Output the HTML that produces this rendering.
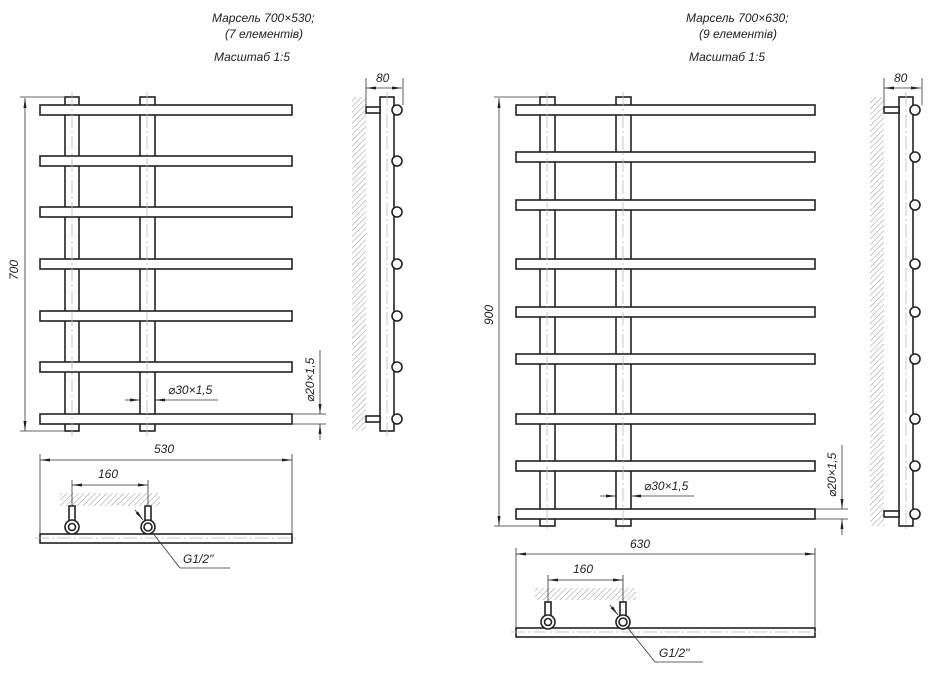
<!DOCTYPE html>
<html><head><meta charset="utf-8"><style>
html,body{margin:0;padding:0;background:#fff;}
svg{display:block;}
text{font-family:"Liberation Sans","DejaVu Sans",sans-serif;font-style:italic;fill:#222;}
</style></head><body>
<svg width="933" height="675" viewBox="0 0 933 675" xmlns="http://www.w3.org/2000/svg">
<defs>
<pattern id="h" width="4" height="4" patternUnits="userSpaceOnUse" patternTransform="rotate(45)">
<line x1="0" y1="0" x2="0" y2="4" stroke="#999" stroke-width="1"/>
</pattern>
<marker id="a" markerWidth="10" markerHeight="6" refX="10" refY="3" orient="auto-start-reverse" markerUnits="userSpaceOnUse"><path d="M0,1.5 L10,3 L0,4.5z" fill="#222"/></marker>
</defs>
<g stroke="#222" stroke-width="1.6" fill="#fff">
<!-- LEFT front -->
<rect x="65" y="97" width="14" height="334"/>
<rect x="140" y="97" width="15" height="334"/>
<rect x="40" y="105" width="252" height="10"/>
<rect x="40" y="156" width="252" height="10"/>
<rect x="40" y="207" width="252" height="10"/>
<rect x="40" y="259" width="252" height="10"/>
<rect x="40" y="311" width="252" height="10"/>
<rect x="40" y="362" width="252" height="10"/>
<rect x="40" y="414" width="252" height="10"/>
<!-- LEFT side -->
<rect x="380" y="97" width="14" height="334"/>
<rect x="366" y="107" width="14" height="6"/>
<rect x="366" y="416" width="14" height="6"/>
<circle cx="397" cy="110" r="5"/><circle cx="397" cy="161" r="5"/><circle cx="397" cy="212" r="5"/><circle cx="397" cy="264" r="5"/><circle cx="397" cy="316" r="5"/><circle cx="397" cy="367" r="5"/><circle cx="397" cy="419" r="5"/>
<!-- LEFT bottom -->
<rect x="40" y="534" width="252" height="9"/>
<rect x="69" y="506" width="6" height="16"/>
<rect x="145" y="506" width="6" height="16"/>
<circle cx="72" cy="527" r="7"/><circle cx="72" cy="527" r="3.5"/>
<circle cx="148" cy="527" r="7"/><circle cx="148" cy="527" r="4"/>

<!-- RIGHT front -->
<rect x="540" y="97" width="15" height="429"/>
<rect x="616" y="97" width="15" height="429"/>
<rect x="516" y="105" width="299" height="10"/>
<rect x="516" y="152" width="299" height="10"/>
<rect x="516" y="200" width="299" height="10"/>
<rect x="516" y="259" width="299" height="10"/>
<rect x="516" y="307" width="299" height="10"/>
<rect x="516" y="354" width="299" height="10"/>
<rect x="516" y="414" width="299" height="10"/>
<rect x="516" y="461" width="299" height="10"/>
<rect x="516" y="509" width="299" height="10"/>
<!-- RIGHT side -->
<rect x="899" y="97" width="14" height="429"/>
<rect x="884" y="107" width="15" height="6"/>
<rect x="884" y="511" width="15" height="6"/>
<circle cx="915" cy="110" r="5"/><circle cx="915" cy="157" r="5"/><circle cx="915" cy="205" r="5"/><circle cx="915" cy="264" r="5"/><circle cx="915" cy="312" r="5"/><circle cx="915" cy="359" r="5"/><circle cx="915" cy="419" r="5"/><circle cx="915" cy="466" r="5"/><circle cx="915" cy="514" r="5"/>
<!-- RIGHT bottom -->
<rect x="516" y="628" width="299" height="9"/>
<rect x="545" y="602" width="6" height="14"/>
<rect x="620" y="602" width="6" height="14"/>
<circle cx="548" cy="622" r="7"/><circle cx="548" cy="622" r="3.5"/>
<circle cx="623" cy="622" r="7"/><circle cx="623" cy="622" r="4"/>
</g>

<!-- hatching -->
<rect x="352" y="97" width="14" height="334" fill="url(#h)"/>
<rect x="870" y="97" width="14" height="429" fill="url(#h)"/>
<rect x="60" y="493" width="100" height="13" fill="url(#h)"/>
<rect x="535" y="588" width="101" height="12" fill="url(#h)"/>

<!-- center lines -->
<g stroke="#bbb" stroke-width="0.8" stroke-dasharray="14,3,2,3" fill="none">
<path d="M387 92V436 M72 92V436 M147 92V436 M906 92V531 M547 92V531 M623 92V531 M35 538H297 M511 632H820"/>
</g>

<!-- dimensions -->
<g stroke="#333" stroke-width="0.8" fill="none">
<line x1="25" y1="98" x2="25" y2="431" marker-start="url(#a)" marker-end="url(#a)"/>
<line x1="20" y1="97" x2="64" y2="97"/><line x1="20" y1="431" x2="64" y2="431"/>
<line x1="40" y1="460" x2="292" y2="460" marker-start="url(#a)" marker-end="url(#a)"/>
<line x1="40" y1="454" x2="40" y2="534"/><line x1="292" y1="454" x2="292" y2="534"/>
<line x1="72" y1="485" x2="148" y2="485" marker-start="url(#a)" marker-end="url(#a)"/>
<line x1="72" y1="480" x2="72" y2="506"/><line x1="148" y1="480" x2="148" y2="506"/>
<line x1="366" y1="88" x2="402" y2="88" marker-start="url(#a)" marker-end="url(#a)"/>
<line x1="366" y1="78" x2="366" y2="107"/><line x1="403" y1="78" x2="403" y2="105"/>
<line x1="125" y1="400" x2="140" y2="400" marker-end="url(#a)"/><line x1="155" y1="400" x2="218" y2="400"/>
<line x1="155" y1="400" x2="165" y2="400" marker-start="url(#a)"/>
<line x1="320" y1="350" x2="320" y2="414" marker-end="url(#a)"/>
<line x1="320" y1="424" x2="320" y2="440" marker-start="url(#a)"/>
<line x1="292" y1="414" x2="326" y2="414"/><line x1="292" y1="424" x2="326" y2="424"/>
<line x1="135" y1="510" x2="143" y2="520" marker-end="url(#a)"/>
<line x1="152" y1="532" x2="180" y2="568"/><line x1="180" y1="568" x2="230" y2="568"/>

<line x1="499" y1="98" x2="499" y2="526" marker-start="url(#a)" marker-end="url(#a)"/>
<line x1="494" y1="97" x2="540" y2="97"/><line x1="494" y1="526" x2="540" y2="526"/>
<line x1="516" y1="554" x2="815" y2="554" marker-start="url(#a)" marker-end="url(#a)"/>
<line x1="516" y1="548" x2="516" y2="628"/><line x1="815" y1="548" x2="815" y2="628"/>
<line x1="548" y1="580" x2="623" y2="580" marker-start="url(#a)" marker-end="url(#a)"/>
<line x1="548" y1="575" x2="548" y2="602"/><line x1="623" y1="575" x2="623" y2="602"/>
<line x1="884" y1="88" x2="921" y2="88" marker-start="url(#a)" marker-end="url(#a)"/>
<line x1="884" y1="78" x2="884" y2="107"/><line x1="922" y1="78" x2="922" y2="105"/>
<line x1="600" y1="496" x2="616" y2="496" marker-end="url(#a)"/><line x1="631" y1="496" x2="694" y2="496"/>
<line x1="631" y1="496" x2="641" y2="496" marker-start="url(#a)"/>
<line x1="842" y1="445" x2="842" y2="509" marker-end="url(#a)"/>
<line x1="842" y1="519" x2="842" y2="535" marker-start="url(#a)"/>
<line x1="815" y1="509" x2="848" y2="509"/><line x1="815" y1="519" x2="848" y2="519"/>
<line x1="610" y1="605" x2="618" y2="615" marker-end="url(#a)"/>
<line x1="627" y1="627" x2="655" y2="662"/><line x1="655" y1="662" x2="703" y2="662"/>
</g>

<!-- text -->
<g font-size="12">
<text x="212" y="22">Марсель 700×530;</text>
<text x="225" y="38">(7 елементів)</text>
<text x="214" y="61">Масштаб 1:5</text>
<text x="686" y="22">Марсель 700×630;</text>
<text x="699" y="38">(9 елементів)</text>
<text x="689" y="61">Масштаб 1:5</text>
<text x="376" y="82">80</text>
<text x="894" y="82">80</text>
<text x="154" y="453">530</text>
<text x="98" y="478">160</text>
<text x="183" y="563">G1/2''</text>
<text x="630" y="548">630</text>
<text x="573" y="573">160</text>
<text x="659" y="657">G1/2''</text>
<text x="168" y="394">⌀30×1,5</text>
<text x="644" y="490">⌀30×1,5</text>
<text transform="translate(18,280) rotate(-90)">700</text>
<text transform="translate(493,325) rotate(-90)">900</text>
<text transform="translate(314,402) rotate(-90)">⌀20×1,5</text>
<text transform="translate(836,497) rotate(-90)">⌀20×1,5</text>
</g>
</svg>
</body></html>
